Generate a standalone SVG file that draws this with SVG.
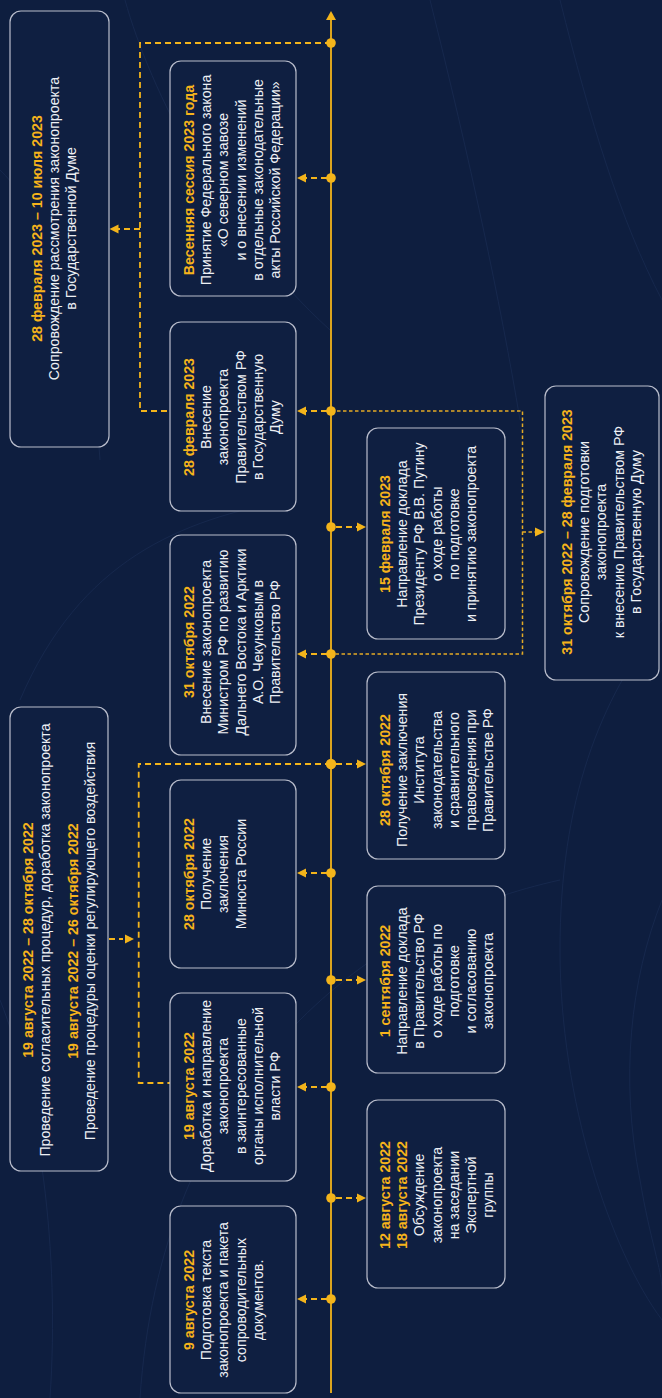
<svg xmlns="http://www.w3.org/2000/svg" width="662" height="1398" viewBox="0 0 662 1398">
<defs>
<style>
.bg{fill:#0e1e3f}
.deco{fill:none;stroke:#1a2c52;stroke-width:1;opacity:0.7}
.box{fill:#0f1f41;stroke:#b9bdcc;stroke-width:1.2}
text{font-family:"Liberation Sans",Arial,sans-serif;font-size:14.2px;fill:#eef0f5;text-anchor:middle}
.d{font-weight:bold;fill:#f6b31b}
.axis{stroke:#f3b41b;stroke-width:1.8;fill:none}
.dash{stroke:#f3b41b;stroke-width:1.8;fill:none;stroke-dasharray:6 4}
.dot2{stroke:#e3aa26;stroke-width:1.5;fill:none;stroke-dasharray:3.5 2.5}
.ah{fill:#f3b41b}
</style>
</defs>
<rect class="bg" x="0" y="0" width="662" height="1398"/>
<g id="background">
<path class="deco" d="M125,0 C150,90 220,230 330,330"/>
<path class="deco" d="M0,170 C60,230 90,320 100,460"/>
<path class="deco" d="M430,0 C470,160 500,300 520,420"/>
<path class="deco" d="M560,0 C590,120 620,220 662,300"/>
<path class="deco" d="M662,620 C600,700 560,800 560,950 C560,1100 610,1250 662,1320"/>
<path class="deco" d="M662,900 C630,980 620,1080 640,1180 C650,1240 662,1270 662,1290"/>
<path class="deco" d="M140,1398 C150,1250 200,1120 300,1020 C380,940 470,900 560,880"/>
<path class="deco" d="M0,1000 C40,1100 60,1250 50,1398"/>
<path class="deco" d="M20,700 C80,560 180,520 290,500"/>
</g>
<g id="connectors">
<line class="axis" x1="331" y1="1393" x2="331" y2="19"/>
<polygon class="ah" points="331,11 336,20 326,20"/>
<path class="dash" d="M331,43 H140 V411 H170"/>
<path class="dash" d="M140,229 H118"/>
<polygon class="ah" points="109.5,229 118.5,224.5 118.5,233.5"/>
<path class="dash" d="M331,764 H138.7 V1083 H170"/>
<path class="dash" d="M109,939 H123"/>
<polygon class="ah" points="134,939 125,934.5 125,943.5"/>
<path class="dot2" d="M331,411 H522.5 V654 H331"/>
<path class="dot2" d="M522.5,532 H535"/>
<polygon class="ah" points="544.5,532 535,527.5 535,536.5"/>
<path class="dash" d="M327,178 H306 M327,411 H306 M327,654 H306 M327,873 H306 M327,1087 H306 M327,1299 H306"/>
<polygon class="ah" points="297,178 306,173.5 306,182.5"/>
<polygon class="ah" points="297,411 306,406.5 306,415.5"/>
<polygon class="ah" points="297,654 306,649.5 306,658.5"/>
<polygon class="ah" points="297,873 306,868.5 306,877.5"/>
<polygon class="ah" points="297,1087 306,1082.5 306,1091.5"/>
<polygon class="ah" points="297,1299 306,1294.5 306,1303.5"/>
<path class="dash" d="M336,527 H357 M336,764 H357 M336,980 H357 M336,1198 H357"/>
<polygon class="ah" points="366,527 357,522.5 357,531.5"/>
<polygon class="ah" points="366,764 357,759.5 357,768.5"/>
<polygon class="ah" points="366,980 357,975.5 357,984.5"/>
<polygon class="ah" points="366,1198 357,1193.5 357,1202.5"/>
<g class="ah">
<circle cx="331" cy="43" r="4.8"/>
<circle cx="331" cy="178" r="4.8"/>
<circle cx="331" cy="411" r="4.8"/>
<circle cx="331" cy="527" r="4.8"/>
<circle cx="331" cy="654" r="4.8"/>
<circle cx="331" cy="764" r="5.2"/>
<circle cx="331" cy="873" r="4.8"/>
<circle cx="331" cy="980" r="4.8"/>
<circle cx="331" cy="1087" r="4.8"/>
<circle cx="331" cy="1198" r="4.8"/>
<circle cx="331" cy="1299" r="4.8"/>
</g>
</g>
<g id="fl1">
<rect class="box" x="10" y="11" width="99" height="436" rx="11"/>
<text transform="rotate(-90)" y="42"><tspan class="d" x="-228.5">28 февраля 2023 – 10 июля 2023</tspan><tspan x="-228.5" dy="17">Сопровождение рассмотрения законопроекта</tspan><tspan x="-228.5" dy="17">в Государственной Думе</tspan></text>
</g>
<g id="fl2">
<rect class="box" x="10" y="707" width="98" height="464" rx="11"/>
<text transform="rotate(-90)" y="32.5"><tspan class="d" x="-940">19 августа 2022 – 28 октября 2022</tspan><tspan x="-940" dy="17.5">Проведение согласительных процедур, доработка законопроекта</tspan><tspan class="d" x="-941" dy="27.5">19 августа 2022 – 26 октября 2022</tspan><tspan x="-941" dy="17.5">Проведение процедуры оценки регулирующего воздействия</tspan></text>
</g>
<g id="l1">
<rect class="box" x="170" y="61" width="126" height="235" rx="11"/>
<text transform="rotate(-90)" y="194"><tspan class="d" x="-180">Весенняя сессия 2023 года</tspan><tspan x="-180" dy="17.2">Принятие Федерального закона</tspan><tspan x="-180" dy="17.2">«О северном завозе</tspan><tspan x="-180" dy="17.2">и о внесении изменений</tspan><tspan x="-180" dy="17.2">в отдельные законодательные</tspan><tspan x="-180" dy="17.2">акты Российской Федерации»</tspan></text>
</g>
<g id="l2">
<rect class="box" x="170" y="322" width="126" height="189" rx="11"/>
<text transform="rotate(-90)" y="194"><tspan class="d" x="-417">28 февраля 2023</tspan><tspan x="-417" dy="17.2">Внесение</tspan><tspan x="-417" dy="17.2">законопроекта</tspan><tspan x="-417" dy="17.2">Правительством РФ</tspan><tspan x="-417" dy="17.2">в Государственную</tspan><tspan x="-417" dy="17.2">Думу</tspan></text>
</g>
<g id="l3">
<rect class="box" x="170" y="535" width="126" height="220" rx="11"/>
<text transform="rotate(-90)" y="194"><tspan class="d" x="-642">31 октября 2022</tspan><tspan x="-642" dy="17.2">Внесение законопроекта</tspan><tspan x="-642" dy="17.2">Министром РФ по развитию</tspan><tspan x="-642" dy="17.2">Дальнего Востока и Арктики</tspan><tspan x="-642" dy="17.2">А.О. Чекунковым в</tspan><tspan x="-642" dy="17.2">Правительство РФ</tspan></text>
</g>
<g id="l4">
<rect class="box" x="170" y="780" width="126" height="188" rx="11"/>
<text transform="rotate(-90)" y="194"><tspan class="d" x="-874">28 октября 2022</tspan><tspan x="-874" dy="17.2">Получение</tspan><tspan x="-874" dy="17.2">заключения</tspan><tspan x="-874" dy="17.2">Минюста России</tspan></text>
</g>
<g id="l5">
<rect class="box" x="170" y="993" width="126" height="188" rx="11"/>
<text transform="rotate(-90)" y="194"><tspan class="d" x="-1086">19 августа 2022</tspan><tspan x="-1086" dy="17.2">Доработка и направление</tspan><tspan x="-1086" dy="17.2">законопроекта</tspan><tspan x="-1086" dy="17.2">в заинтересованные</tspan><tspan x="-1086" dy="17.2">органы исполнительной</tspan><tspan x="-1086" dy="17.2">власти РФ</tspan></text>
</g>
<g id="l6">
<rect class="box" x="170" y="1206" width="126" height="187" rx="11"/>
<text transform="rotate(-90)" y="194"><tspan class="d" x="-1300">9 августа 2022</tspan><tspan x="-1300" dy="17.2">Подготовка текста</tspan><tspan x="-1300" dy="17.2">законопроекта и пакета</tspan><tspan x="-1300" dy="17.2">сопроводительных</tspan><tspan x="-1300" dy="17.2">документов.</tspan></text>
</g>
<g id="r1">
<rect class="box" x="367" y="428" width="138" height="211" rx="11"/>
<text transform="rotate(-90)" y="390"><tspan class="d" x="-534">15 февраля 2023</tspan><tspan x="-534" dy="17.2">Направление доклада</tspan><tspan x="-534" dy="17.2">Президенту РФ В.В. Путину</tspan><tspan x="-534" dy="17.2">о ходе работы</tspan><tspan x="-534" dy="17.2">по подготовке</tspan><tspan x="-534" dy="17.2">и принятию законопроекта</tspan></text>
</g>
<g id="r2">
<rect class="box" x="367" y="672" width="138" height="187" rx="11"/>
<text transform="rotate(-90)" y="390"><tspan class="d" x="-770">28 октября 2022</tspan><tspan x="-770" dy="17.2">Получение заключения</tspan><tspan x="-770" dy="17.2">Института</tspan><tspan x="-770" dy="17.2">законодательства</tspan><tspan x="-770" dy="17.2">и сравнительного</tspan><tspan x="-770" dy="17.2">правоведения при</tspan><tspan x="-770" dy="17.2">Правительстве РФ</tspan></text>
</g>
<g id="r3">
<rect class="box" x="367" y="886" width="138" height="187" rx="11"/>
<text transform="rotate(-90)" y="390"><tspan class="d" x="-981">1 сентября 2022</tspan><tspan x="-981" dy="17.2">Направление доклада</tspan><tspan x="-981" dy="17.2">в Правительство РФ</tspan><tspan x="-981" dy="17.2">о ходе работы по</tspan><tspan x="-981" dy="17.2">подготовке</tspan><tspan x="-981" dy="17.2">и согласованию</tspan><tspan x="-981" dy="17.2">законопроекта</tspan></text>
</g>
<g id="r4">
<rect class="box" x="367" y="1100" width="138" height="188" rx="11"/>
<text transform="rotate(-90)" y="390"><tspan class="d" x="-1195">12 августа 2022</tspan><tspan class="d" x="-1195" dy="17.2">18 августа 2022</tspan><tspan x="-1195" dy="17.2">Обсуждение</tspan><tspan x="-1195" dy="17.2">законопроекта</tspan><tspan x="-1195" dy="17.2">на заседании</tspan><tspan x="-1195" dy="17.2">Экспертной</tspan><tspan x="-1195" dy="17.2">группы</tspan></text>
</g>
<g id="fr">
<rect class="box" x="545" y="386" width="114" height="294" rx="11"/>
<text transform="rotate(-90)" y="572"><tspan class="d" x="-532">31 октября 2022 – 28 февраля 2023</tspan><tspan x="-532" dy="17.2">Сопровождение подготовки</tspan><tspan x="-532" dy="17.2">законопроекта</tspan><tspan x="-532" dy="17.2">к внесению Правительством РФ</tspan><tspan x="-532" dy="17.2">в Государственную Думу</tspan></text>
</g>
</svg>
